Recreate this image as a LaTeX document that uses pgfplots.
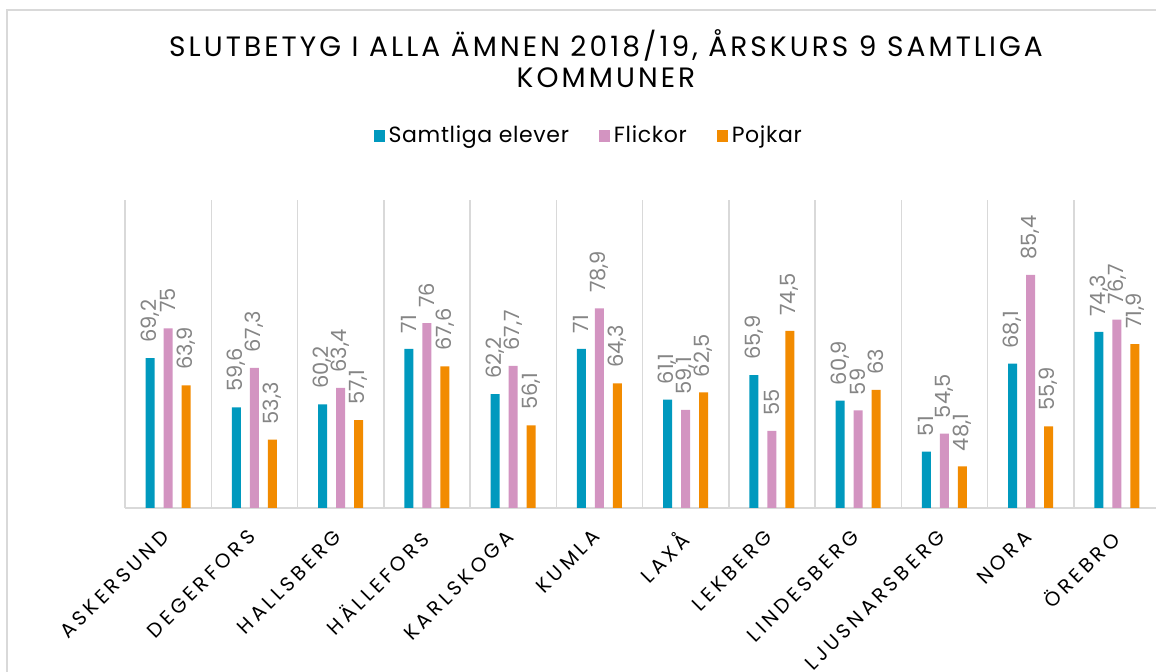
\documentclass[border=0pt]{standalone}
\usepackage{fontspec}
\setmainfont{Poppins}
\newfontfamily\titlefont[LetterSpace=11]{Poppins}
\newfontfamily\tickfont[LetterSpace=19]{Poppins}
\newfontfamily\legfont[LetterSpace=3]{Poppins}
\usepackage{pgfplots}
\pgfplotsset{compat=1.18}
\definecolor{cteal}{HTML}{0099BE}
\definecolor{cpink}{HTML}{D394C1}
\definecolor{corange}{HTML}{F28B00}
\definecolor{cgrid}{HTML}{D9D9D9}
\definecolor{clab}{HTML}{858585}
\begin{document}
\begin{tikzpicture}
\draw[cgrid, line width=1pt] (3.5pt,-20pt) -- (3.5pt,331pt) -- (600pt,331pt);
\node[font=\titlefont\fontsize{14}{16}\selectfont, anchor=base] at (303pt,307.5pt) {SLUTBETYG I ALLA ÄMNEN 2018/19, ÅRSKURS 9 SAMTLIGA};
\node[font=\titlefont\fontsize{14}{16}\selectfont, anchor=base] at (303pt,292pt) {KOMMUNER};
\begin{axis}[
  at={(62.5pt,82pt)}, anchor=south west,
  width=517.5pt, height=154pt, scale only axis,
  ymin=40, ymax=100,
  xmin=-0.5, xmax=11.5,
  ybar=4.5pt, bar width=4.5pt,
  axis x line=bottom, axis y line=none,
  x axis line style={-, cgrid, line width=1pt},
  ytick=\empty,
  xtick={0,...,11},
  major tick length=0pt, minor tick length=0pt,
  minor xtick={-0.5,0.5,...,11.5},
  xminorgrids=true,
  minor x grid style={cgrid, line width=0.75pt},
  xticklabels={ASKERSUND,DEGERFORS,HALLSBERG,HÄLLEFORS,KARLSKOGA,KUMLA,LAXÅ,LEKBERG,LINDESBERG,LJUSNARSBERG,NORA,ÖREBRO},
  xticklabel style={yshift=-10pt, xshift=-4pt, rotate=45, anchor=north east, inner sep=0pt, font=\tickfont\fontsize{10}{12}\selectfont, text=black},
  /pgf/number format/use comma,
  /pgf/number format/assume math mode=true,
  nodes near coords,
  nodes near coords style={rotate=90, anchor=west, inner xsep=7.5pt, inner ysep=0pt, font=\fontsize{10.5}{12}\selectfont, text=clab},
  legend style={at={(0.449,1.208)}, anchor=center, draw=none, fill=none, legend columns=3,
    font=\legfont\fontsize{11}{13}\selectfont,
    /tikz/every even column/.append style={column sep=13pt}},
]
\addplot[fill=cteal, draw=none, legend image code/.code={\fill[cteal] (0pt,-3pt) rectangle (5.5pt,3pt);}] coordinates {
(0,69.2) (1,59.6) (2,60.2) (3,71) (4,62.2) (5,71) (6,61.1) (7,65.9) (8,60.9) (9,51) (10,68.1) (11,74.3)};
\addlegendentry{Samtliga elever}
\addplot[fill=cpink, draw=none, legend image code/.code={\fill[cpink] (0pt,-3pt) rectangle (5.5pt,3pt);}] coordinates {
(0,75) (1,67.3) (2,63.4) (3,76) (4,67.7) (5,78.9) (6,59.1) (7,55) (8,59) (9,54.5) (10,85.4) (11,76.7)};
\addlegendentry{Flickor}
\addplot[fill=corange, draw=none, legend image code/.code={\fill[corange] (0pt,-3pt) rectangle (5.5pt,3pt);}] coordinates {
(0,63.9) (1,53.3) (2,57.1) (3,67.6) (4,56.1) (5,64.3) (6,62.5) (7,74.5) (8,63) (9,48.1) (10,55.9) (11,71.9)};
\addlegendentry{Pojkar}
\end{axis}
\pgfresetboundingbox
\useasboundingbox (0pt,0pt) rectangle (578pt,336pt);
\end{tikzpicture}
\end{document}
